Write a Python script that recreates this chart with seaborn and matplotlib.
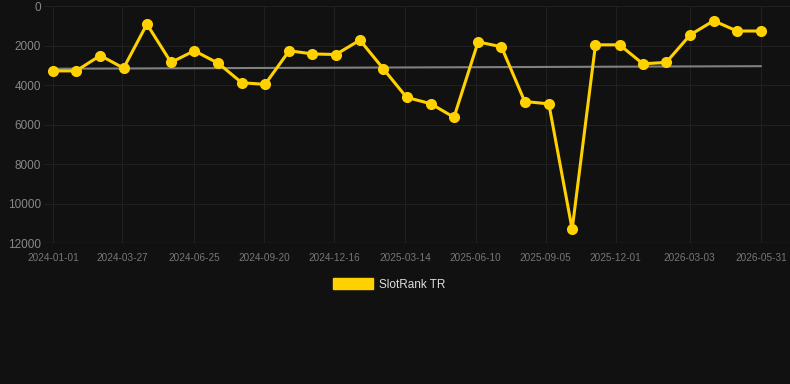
import pandas as pd
import numpy as np
import matplotlib
matplotlib.use("Agg")
import matplotlib.pyplot as plt
from matplotlib.patches import Patch
import seaborn as sns

# ─── datos ───────────────────────────────────────────────────────────────
fechas = [
    "2024-01-01", "2024-01-30", "2024-02-29", "2024-03-29", "2024-04-27",
    "2024-05-27", "2024-06-25", "2024-07-25", "2024-08-23", "2024-09-21",
    "2024-10-21", "2024-11-19", "2024-12-18", "2025-01-17", "2025-02-15",
    "2025-03-16", "2025-04-15", "2025-05-14", "2025-06-13", "2025-07-12",
    "2025-08-10", "2025-09-09", "2025-10-08", "2025-11-06", "2025-12-06",
    "2026-01-04", "2026-02-02", "2026-03-04", "2026-04-02", "2026-05-01",
    "2026-05-31",
]
rank = [
    3280, 3280, 2500, 3140, 910, 2850, 2260, 2900, 3880, 3960,
    2260, 2420, 2450, 1720, 3170, 4620, 4940, 5630, 1810, 2060,
    4830, 4950, 11300, 1960, 1960, 2920, 2850, 1450, 740, 1260,
    1260,
]
trend_fechas = ["2024-01-01", "2026-05-31"]
trend_vals = [3170, 3040]

tick_fechas = [
    "2024-01-01", "2024-03-27", "2024-06-25", "2024-09-20", "2024-12-16",
    "2025-03-14", "2025-06-10", "2025-09-05", "2025-12-01", "2026-03-03",
    "2026-05-31",
]
y_ticks = [0, 2000, 4000, 6000, 8000, 10000, 12000]

df = pd.DataFrame({"fecha": pd.to_datetime(fechas), "rank": rank})
df_trend = pd.DataFrame({"fecha": pd.to_datetime(trend_fechas), "rank": trend_vals})

# ─── estilo ──────────────────────────────────────────────────────────────
BG = "#111111"
YELLOW = "#FFD100"
GRID = "#202020"

sns.set_style("dark")
plt.rcParams["font.family"] = ["Liberation Sans", "DejaVu Sans"]

fig = plt.figure(figsize=(7.9, 3.84), dpi=100, facecolor=BG)
ax = fig.add_axes([0.0557, 0.367, 0.9443, 0.617])
ax.set_facecolor(BG)

sns.lineplot(data=df_trend, x="fecha", y="rank", color="#808080",
             linewidth=1.5, ax=ax, zorder=2)
sns.lineplot(data=df, x="fecha", y="rank", color=YELLOW, linewidth=2.2,
             marker="o", markersize=8, markeredgewidth=0,
             ax=ax, zorder=3)

# ─── ejes ────────────────────────────────────────────────────────────────
ax.set_ylim(12000, 0)
ax.set_yticks(y_ticks)
ticks = pd.to_datetime(tick_fechas)
ax.set_xticks(ticks)
ax.set_xticklabels(tick_fechas)
ax.set_xlim(ticks[0] - pd.Timedelta(days=11), ticks[-1] + pd.Timedelta(days=36))

ax.grid(True, color=GRID, linewidth=0.8)
ax.tick_params(axis="y", colors="#888888", labelsize=8.5, length=0, pad=2)
ax.tick_params(axis="x", colors="#777777", labelsize=7.2, length=0, pad=7)
ax.set_xlabel("")
ax.set_ylabel("")
for s in ax.spines.values():
    s.set_visible(False)
ax.axhline(12000, color="#2a2a2a", linewidth=1.0, zorder=1)

# ─── leyenda ─────────────────────────────────────────────────────────────
handle = Patch(facecolor=YELLOW, edgecolor=YELLOW, label="SlotRank TR")
fig.legend(handles=[handle], loc="center", bbox_to_anchor=(0.493, 0.26),
           frameon=False, labelcolor="#dddddd", fontsize=8.5,
           handlelength=3.4, handleheight=1.1, handletextpad=0.5)

fig.savefig("out.png", dpi=100, facecolor=BG)
